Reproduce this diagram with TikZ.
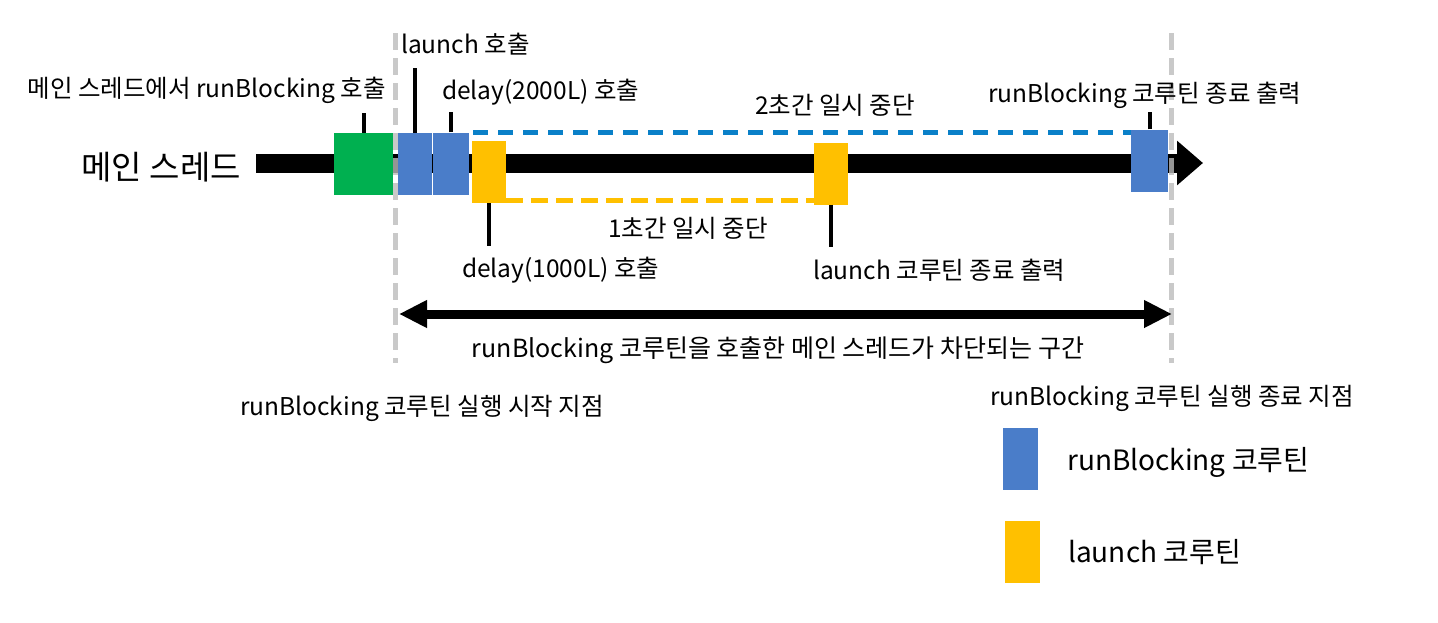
\documentclass[tikz,border=0pt]{standalone}
\usepackage{fontspec}
\setmainfont{Noto Sans CJK KR}
\usetikzlibrary{arrows.meta}
\definecolor{rbblue}{HTML}{4A7DC9}
\definecolor{lnyellow}{HTML}{FFC000}
\definecolor{mgreen}{HTML}{00B050}
\definecolor{dashblue}{HTML}{0A80C8}
\definecolor{guide}{HTML}{BBBBBB}
\tikzset{
  box/.style 2 args={fill=#1, inner sep=0pt, minimum width=#2, minimum height=62pt},
  lbl/.style={inner sep=0pt, font=\fontsize{24.5}{28}\selectfont},
  biglbl/.style={inner sep=0pt, font=\fontsize{28}{32}\selectfont},
  tick/.style={line width=4pt},
  guideline/.style={guide, line width=5pt, dash pattern=on 17pt off 8pt, opacity=.8},
}
\begin{document}
\begin{tikzpicture}[x=1pt,y=-1pt]
\useasboundingbox (0,0) rectangle (1438,622);
\coordinate (mStart) at (256,163);
\coordinate (mEnd) at (1203,163);
\draw[line width=19pt, -{Triangle[length=26pt,width=43pt]}] (mStart) -- (mEnd);
\node[biglbl, font=\fontsize{33}{38}\selectfont, anchor=east] (lMain) at (241,167) {메인 스레드};

\node[box={mgreen}{59pt}] (green) at (363.5,164) {};
\node[box={rbblue}{34pt}] (blueA) at (415,164) {};
\node[box={rbblue}{36pt}] (blueB) at (451,163.5) {};
\node[box={lnyellow}{34pt}] (yelA) at (489,172) {};
\node[box={lnyellow}{34pt}] (yelB) at (831,173.5) {};
\node[box={rbblue}{37pt}] (blueC) at (1149.5,160.5) {};

\coordinate (gTop) at (395,33);
\coordinate (gBot) at (395,363);
\coordinate (hTop) at (1171,33);
\coordinate (hBot) at (1171,363);
\draw[guideline] (gTop) -- (gBot);
\draw[guideline] (hTop) -- (hBot);

\draw[dashblue, line width=5pt, dash pattern=on 15pt off 10pt]
  ([xshift=4pt]blueB.north east) -- (blueB.north east -| blueC.west);
\draw[lnyellow, line width=5pt, dash pattern=on 17pt off 8pt]
  ([yshift=3pt]yelA.south east) -- ([yshift=3pt]yelA.south east -| yelB.west);

\coordinate (tGreen) at (363.5,113);
\coordinate (tLaunch) at (415,68);
\coordinate (tDelayB) at (451,112);
\coordinate (tDelayA) at (489,246);
\coordinate (tLaunchEnd) at (831,247);
\coordinate (tRbEnd) at (1149.5,112);
\draw[tick] (green.north) -- (tGreen);
\draw[tick] (blueA.north) -- (tLaunch);
\draw[tick] (blueB.north) -- (tDelayB);
\draw[tick] (yelA.south) -- (tDelayA);
\draw[tick] (yelB.south) -- (tLaunchEnd);
\draw[tick] (blueC.north) -- (tRbEnd);

\node[lbl, anchor=west] (lLaunch) at (401,44) {launch 호출};
\node[lbl, anchor=east] (lMainCall) at (386,90) {메인 스레드에서 runBlocking 호출};
\node[lbl, anchor=west] (lDelayB) at (442,92) {delay(2000L) 호출};
\node[lbl] (lPauseB) at (835,105) {2초간 일시 중단};
\node[lbl, anchor=west] (lRbEnd) at (988,95) {runBlocking 코루틴 종료 출력};
\node[lbl] (lPauseA) at (688,228) {1초간 일시 중단};
\node[lbl, anchor=west] (lDelayA) at (462,270) {delay(1000L) 호출};
\node[lbl, anchor=west] (lLaunchEnd) at (813,270) {launch 코루틴 종료 출력};

\coordinate (bStart) at (399,314);
\coordinate (bEnd) at (1172,314);
\draw[line width=9pt, {Triangle[length=28pt,width=26pt]}-{Triangle[length=28pt,width=26pt]}] (bStart) -- (bEnd);
\node[lbl, font=\fontsize{25}{29}\selectfont] (lBlock) at (778,350) {runBlocking 코루틴을 호출한 메인 스레드가 차단되는 구간};
\node[lbl, anchor=west] (lStart) at (240,408) {runBlocking 코루틴 실행 시작 지점};
\node[lbl, anchor=west] (lStop) at (990,398) {runBlocking 코루틴 실행 종료 지점};

\node[box={rbblue}{35pt}] (legBlue) at (1020.5,459) {};
\node[biglbl, anchor=west] (lLegBlue) at (1067,462) {runBlocking 코루틴};
\node[box={lnyellow}{35pt}] (legYel) at (1022.5,552) {};
\node[biglbl, anchor=west] (lLegYel) at (1068,552) {launch 코루틴};
\end{tikzpicture}
\end{document}
